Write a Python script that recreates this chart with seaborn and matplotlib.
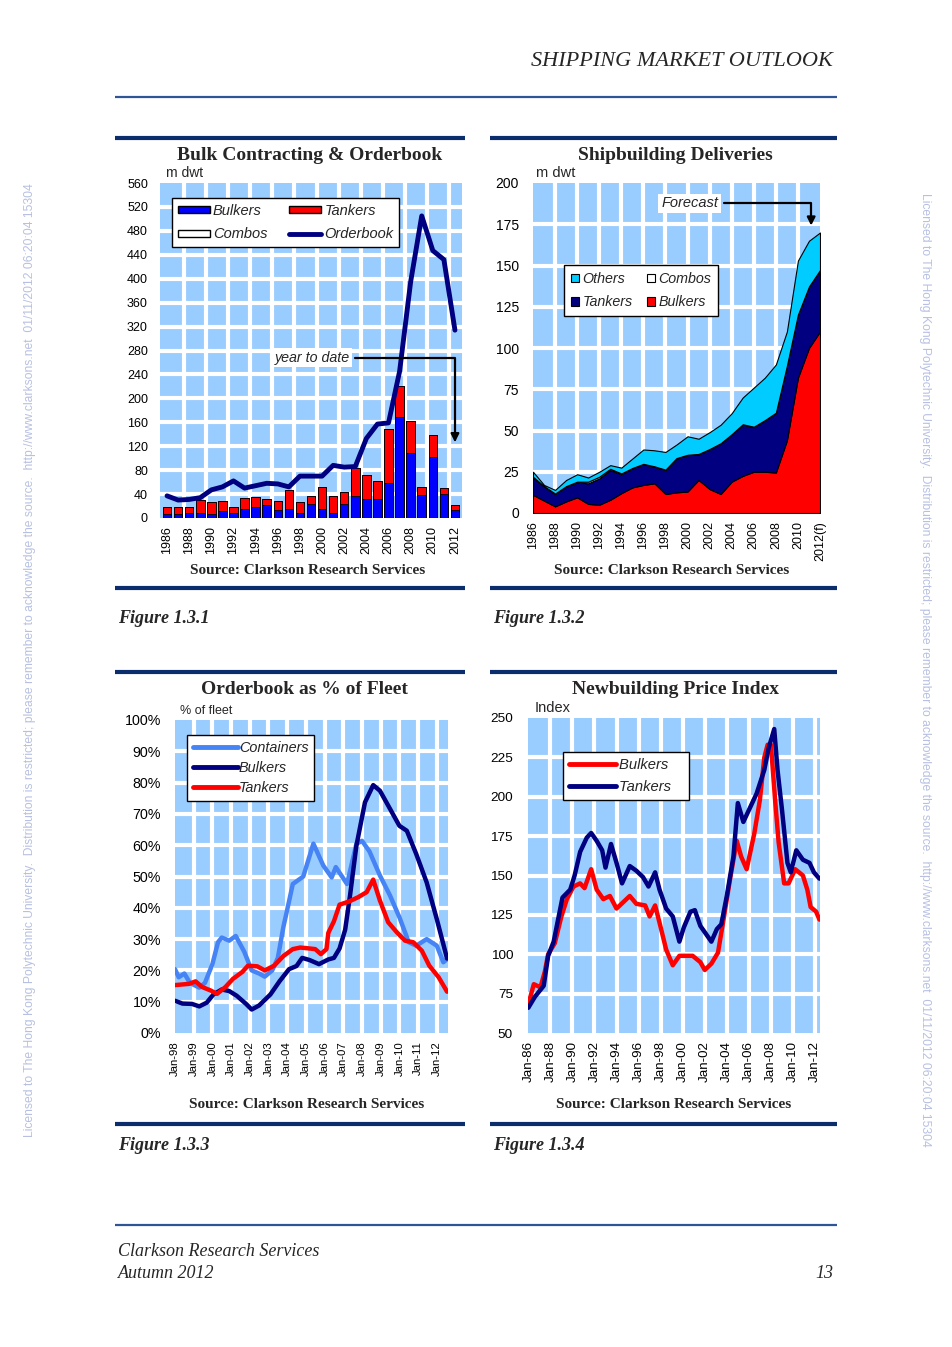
import numpy as np
import matplotlib
matplotlib.use("Agg")
import matplotlib.pyplot as plt
from matplotlib.lines import Line2D
from matplotlib.patches import Patch
import seaborn as sns

sns.set_theme(style="white")
plt.rcParams['font.family'] = ['Liberation Sans', 'DejaVu Sans']
SERIF = ['Liberation Serif', 'DejaVu Serif']

# ---- Fig 1.3.1 Bulk contracting & orderbook (m dwt)
years1 = list(range(1986, 2013))
bulk_con = [7, 7, 9, 9, 6, 11, 8, 15, 18, 22, 14, 15, 9, 24, 15, 9, 23, 36, 32, 31, 58, 169, 108, 38, 102, 40, 13]
tank_con = [11, 12, 10, 21, 21, 18, 10, 18, 17, 10, 15, 31, 18, 12, 37, 28, 21, 48, 40, 31, 91, 51, 54, 14, 37, 10, 8]
combo_con = [0] * 27
orderbook = [37, 30, 31, 34, 47, 52, 62, 50, 54, 58, 57, 52, 70, 70, 70, 88, 85, 86, 133, 157, 159, 245, 395, 505, 447, 432, 314]

# ---- Fig 1.3.2 Shipbuilding deliveries (m dwt)
years2 = list(range(1986, 2013))
del_bulk = [11, 7.5, 4, 7, 9.5, 5.5, 5, 8, 12, 15.5, 17, 18, 11.5, 12.5, 13, 20, 14.5, 11.5, 19, 22.5, 25, 25, 24.5, 44, 82, 100, 110]
del_tank = [10.5, 8.5, 7.5, 9, 9, 12.5, 16, 18, 11.5, 11.5, 12.5, 10, 14.5, 20.5, 22, 15.5, 24, 30.5, 28.5, 31, 27, 31, 36, 45, 38, 37, 37]
del_combo = [0.5, 0.3, 0.3, 0.3, 0.5, 1, 1, 0.8, 0.5, 0.3, 0.3, 0.3, 0.3, 0.3, 0.3, 0.3, 0.3, 0.3, 0.3, 0.3, 0.3, 0.3, 0.3, 0.3, 0.3, 0.3, 0.3]
del_other = [3, 0.7, 2.2, 3.7, 4.5, 2.5, 3, 2.2, 3.5, 5.7, 8.7, 9.7, 10.7, 8.2, 11.2, 9.2, 10.2, 11.2, 12.7, 16.2, 23.7, 25.7, 29.2, 20.7, 32.7, 27.7, 22.7]
year_labels2 = [str(y) for y in range(1986, 2012, 2)] + ['2012(f)']

# ---- Fig 1.3.3 Orderbook as % of fleet
cont_t = [1998.0, 1998.2, 1998.5, 1998.8, 1999.3, 1999.6, 2000.0, 2000.3, 2000.5, 2000.9, 2001.25, 2001.7,
          2002.1, 2002.5, 2002.8, 2003.2, 2003.5, 2003.8, 2003.95, 2004.3, 2004.86, 2005.4, 2005.93, 2006.38,
          2006.6, 2007.2, 2007.7, 2008.0, 2008.4, 2008.96, 2009.5, 2010.0, 2010.5, 2010.9, 2011.46, 2012.0,
          2012.35, 2012.55]
cont_v = [20.4, 17.8, 19, 16, 14.5, 16, 22, 29, 30.5, 29.5, 31, 26, 20, 19, 18, 20, 24, 34, 38, 47.6, 50,
          60.5, 53.5, 49.7, 53, 47.6, 60.4, 61.4, 58, 50.3, 43.9, 37, 29, 27.9, 30, 27.9, 22.6, 23.6]
bulkob_t = [1998.0, 1998.4, 1998.9, 1999.3, 1999.7, 2000.05, 2000.5, 2000.9, 2001.3, 2001.8, 2002.1, 2002.5,
            2003.1, 2003.6, 2004.1, 2004.5, 2004.8, 2005.2, 2005.7, 2006.2, 2006.5, 2006.8, 2007.1, 2007.36,
            2007.7, 2008.16, 2008.6, 2008.96, 2009.5, 2010.0, 2010.4, 2010.9, 2011.46, 2012.0, 2012.55]
bulkob_v = [10.3, 9.4, 9.3, 8.5, 9.7, 12.3, 13.9, 13.4, 11.9, 9.3, 7.5, 8.8, 12.3, 16.6, 20.4, 21.4, 24, 23.3,
            22, 23.5, 24, 27, 33, 43.9, 59.8, 73.7, 79.2, 77.4, 71.6, 66.2, 64.6, 57.2, 48.1, 36.4, 23.8]
tankob_t = [1998.0, 1998.75, 1999.1, 1999.45, 1999.9, 2000.25, 2000.7, 2001.1, 2001.6, 2001.9, 2002.4, 2002.8,
            2003.3, 2003.8, 2004.3, 2004.7, 2005.2, 2005.5, 2005.8, 2006.1, 2006.2, 2006.5, 2006.8, 2007.3,
            2007.8, 2008.25, 2008.6, 2008.96, 2009.4, 2009.86, 2010.3, 2010.74, 2011.2, 2011.6, 2012.1, 2012.55]
tankob_v = [15.3, 15.7, 16.5, 14.7, 13.6, 12.5, 14.7, 17.3, 19.5, 21.5, 21.3, 20, 21.5, 24.6, 26.8, 27.3, 27,
            26.8, 25.2, 26.8, 32, 35.7, 41, 42, 43.4, 45, 49, 42.3, 35.4, 32.2, 29.5, 29, 26.3, 21.5, 17.8, 13.2]

# ---- Fig 1.3.4 Newbuilding price index
nbtank_t = [1986.0, 1986.6, 1987.4, 1987.8, 1988.3, 1988.7, 1989.1, 1989.8, 1990.2, 1990.7, 1991.3, 1991.7,
            1992.2, 1992.7, 1993.0, 1993.5, 1994.0, 1994.5, 1995.2, 1995.8, 1996.4, 1996.9, 1997.5, 1997.9,
            1998.5, 1999.1, 1999.7, 2000.1, 2000.7, 2001.1, 2001.6, 2002.2, 2002.6, 2003.1, 2003.5, 2004.0,
            2004.6, 2005.0, 2005.5, 2006.1, 2006.7, 2007.4, 2007.8, 2008.3, 2008.6, 2009.0, 2009.5, 2009.8,
            2010.3, 2010.9, 2011.5, 2011.9, 2012.4]
nbtank_v = [66, 73, 80, 99, 108, 122, 136, 141, 150, 165, 174, 177, 172, 166, 155, 170, 158, 145, 156, 153,
            149, 143, 152, 141, 129, 124, 108, 117, 127, 128, 118, 112, 108, 116, 119, 137, 162, 196, 184, 193,
            202, 217, 231, 243, 217, 192, 158, 152, 166, 160, 158, 152, 148]
nbbulk_t = [1986.0, 1986.5, 1987.1, 1987.5, 1987.8, 1988.4, 1989.0, 1989.5, 1990.1, 1990.7, 1991.1, 1991.7,
            1992.2, 1992.8, 1993.4, 1994.0, 1994.6, 1995.2, 1995.8, 1996.6, 1997.0, 1997.5, 1997.9, 1998.5,
            1999.1, 1999.7, 2000.3, 2000.9, 2001.6, 2002.0, 2002.6, 2003.2, 2003.7, 2004.3, 2004.9, 2005.3,
            2005.8, 2006.5, 2007.0, 2007.4, 2007.7, 2008.0, 2008.4, 2008.7, 2009.2, 2009.6, 2010.2, 2010.9,
            2011.3, 2011.6, 2012.1, 2012.4]
nbbulk_v = [68, 81, 79, 89, 100, 107, 124, 135, 143, 145, 142, 154, 141, 135, 137, 129, 133, 137, 132, 131,
            124, 131, 120, 103, 93, 99, 99, 99, 95, 90, 94, 101, 122, 148, 172, 162, 154, 177, 198, 225, 233,
            233, 196, 171, 145, 145, 154, 150, 141, 130, 127, 122]

TILE = '#99CCFF'
NAVY = '#000080'
FRAME = '#0B2D6B'
W, H = 952, 1347

fig = plt.figure(figsize=(9.52, 13.47), dpi=100)


def box(l, t, r, b):
    return [l / W, 1 - b / H, (r - l) / W, (b - t) / H]


def hline(x0, x1, y, color, lw):
    fig.add_artist(Line2D([x0 / W, x1 / W], [1 - y / H, 1 - y / H], transform=fig.transFigure,
                          color=color, lw=lw, solid_capstyle='butt'))


def ftext(x, y, s, **kw):
    fig.text(x / W, 1 - y / H, s, **kw)


def style_ax(ax, xlines, ylines, ysize=9, xsize=9, ypad=9):
    ax.set_facecolor(TILE)
    for x in xlines:
        ax.axvline(x, color='white', lw=3, zorder=0.5)
    for y in ylines:
        ax.axhline(y, color='white', lw=3, zorder=0.5)
    for s in ax.spines.values():
        s.set_visible(False)
    ax.tick_params(length=0, labelcolor='black')
    ax.tick_params(axis='y', pad=ypad, labelsize=ysize)
    ax.tick_params(axis='x', pad=6, labelsize=xsize)
    ax.set(xlabel='', ylabel='')


def legend(ax, handles, anchor, ncol, size=10.5, **kw):
    lg = ax.legend(handles=handles, ncol=ncol, loc='upper left', bbox_to_anchor=anchor, frameon=True,
                   fancybox=False, edgecolor='black', framealpha=1, borderaxespad=0,
                   prop=dict(style='italic', size=size), **kw)
    lg.get_frame().set_linewidth(1.0)
    return lg


arrow_kw = dict(arrowstyle='-|>', connectionstyle='angle,angleA=0,angleB=90,rad=0',
                color='black', lw=1.6, mutation_scale=12)

# ---------------- Figure 1.3.1
ax1 = fig.add_axes(box(160.4, 183, 461.6, 518))
tot_all = np.array(bulk_con) + np.array(tank_con) + np.array(combo_con)
tot_bt = np.array(bulk_con) + np.array(tank_con)
bar_kw = dict(edgecolor='black', linewidth=0.6, width=0.77, saturation=1, ax=ax1)
sns.barplot(x=years1, y=tot_all, color='white', **bar_kw)
sns.barplot(x=years1, y=tot_bt, color='#FF0000', **bar_kw)
sns.barplot(x=years1, y=bulk_con, color='#0000FF', **bar_kw)
sns.lineplot(x=np.arange(len(years1)), y=orderbook, color=NAVY, lw=3.5, ax=ax1)
ax1.set_xlim(-0.6, 26.6)
ax1.set_ylim(0, 560)
ax1.set_yticks(range(0, 561, 40))
ax1.set_xticks(range(0, 27, 2))
ax1.set_xticklabels([str(y) for y in years1[::2]], rotation=90)
style_ax(ax1, np.arange(1.5, 26, 2), range(40, 560, 40))
legend(ax1, [Patch(fc='#0000FF', ec='black', label='Bulkers'),
             Patch(fc='white', ec='black', label='Combos'),
             Patch(fc='#FF0000', ec='black', label='Tankers'),
             Line2D([], [], color=NAVY, lw=3.5, label='Orderbook')],
       (0.0385, 0.955), 2, handlelength=2.2, handleheight=0.35, columnspacing=1.5, labelspacing=0.65,
       handletextpad=0.2, borderpad=0.4)
ax1.annotate('year to date', xy=(26, 122), xytext=(13.1, 268), fontsize=10.3, style='italic',
             ha='center', va='center', bbox=dict(fc='white', ec='none', pad=2), arrowprops=arrow_kw)
ax1.text(0.02, 1.008, 'm dwt', transform=ax1.transAxes, fontsize=10, va='bottom')

# ---------------- Figure 1.3.2
ax2 = fig.add_axes(box(533, 183, 820, 513))
ax2.stackplot(years2, del_bulk, del_tank, del_combo, del_other,
              colors=['#FF0000', NAVY, 'white', '#00CCFF'], edgecolor='black', lw=0.8, zorder=2)
ax2.set_xlim(1986, 2012)
ax2.set_ylim(0, 200)
ax2.set_yticks(range(0, 201, 25))
ax2.set_xticks(range(1986, 2013, 2))
ax2.set_xticklabels(year_labels2, rotation=90)
style_ax(ax2, range(1988, 2012, 2), range(25, 200, 25), ysize=10, ypad=10)
sq = dict(ec='black', lw=0.8)
legend(ax2, [Patch(fc='#00CCFF', label='Others', **sq), Patch(fc=NAVY, label='Tankers', **sq),
             Patch(fc='white', label='Combos', **sq), Patch(fc='#FF0000', label='Bulkers', **sq)],
       (0.108, 0.752), 2, size=10.3, handlelength=0.55, handleheight=0.55, columnspacing=1.0,
       labelspacing=0.65, handletextpad=0.25, borderpad=0.5)
ax2.annotate('Forecast', xy=(2011.2, 172.5), xytext=(2000.2, 187.7), fontsize=10.5, style='italic',
             ha='center', va='center', bbox=dict(fc='white', ec='none', pad=2), arrowprops=arrow_kw)
ax2.text(0.01, 1.008, 'm dwt', transform=ax2.transAxes, fontsize=10.5, va='bottom')

# ---------------- Figure 1.3.3
ax3 = fig.add_axes(box(175, 720, 448, 1033))
sns.lineplot(x=cont_t, y=cont_v, color='#4683F5', lw=3.2, ax=ax3)
sns.lineplot(x=bulkob_t, y=bulkob_v, color=NAVY, lw=3.2, ax=ax3)
sns.lineplot(x=tankob_t, y=tankob_v, color='#FF0000', lw=3.2, ax=ax3)
ax3.set_xlim(1998, 2012.6)
ax3.set_ylim(0, 100)
ax3.set_yticks(range(0, 101, 10))
ax3.set_yticklabels([f'{v}%' for v in range(0, 101, 10)])
ax3.set_xticks(range(1998, 2013))
ax3.set_xticklabels([f'Jan-{y % 100:02d}' for y in range(1998, 2013)], rotation=90)
style_ax(ax3, range(1999, 2013), range(10, 100, 10), ysize=10.3, xsize=8.2, ypad=10)
legend(ax3, [Line2D([], [], color='#4683F5', lw=3.5, label='Containers'),
             Line2D([], [], color=NAVY, lw=3.5, label='Bulkers'),
             Line2D([], [], color='#FF0000', lw=3.5, label='Tankers')],
       (0.044, 0.952), 1, size=10.4, handlelength=3.1, labelspacing=0.42, borderpad=0.4,
       handletextpad=0.1)
ax3.text(0.02, 1.008, '% of fleet', transform=ax3.transAxes, fontsize=9, va='bottom')

# ---------------- Figure 1.3.4
ax4 = fig.add_axes(box(528.3, 718, 820, 1033))
sns.lineplot(x=nbbulk_t, y=nbbulk_v, color='#FF0000', lw=3.2, ax=ax4)
sns.lineplot(x=nbtank_t, y=nbtank_v, color=NAVY, lw=3.2, ax=ax4)
ax4.set_xlim(1986, 2012.45)
ax4.set_ylim(50, 250)
ax4.set_yticks(range(50, 251, 25))
ax4.set_xticks(range(1986, 2013, 2))
ax4.set_xticklabels([f'Jan-{y % 100:02d}' for y in range(1986, 2013, 2)], rotation=90)
style_ax(ax4, range(1988, 2013, 2), range(75, 250, 25), ysize=9.7, xsize=9.6, ypad=11)
legend(ax4, [Line2D([], [], color='#FF0000', lw=3.5, label='Bulkers   '),
             Line2D([], [], color=NAVY, lw=3.5, label='Tankers   ')],
       (0.119, 0.892), 1, size=10.6, handlelength=3.2, labelspacing=0.55, borderpad=0.42,
       handletextpad=0.15)
ax4.text(0.02, 1.008, 'Index', transform=ax4.transAxes, fontsize=10.5, va='bottom')

# ---------------- page furniture
ftext(833, 62, 'SHIPPING MARKET OUTLOOK', family=SERIF, style='italic', fontsize=16, ha='right', va='center')
hline(115, 837, 97, '#2F5597', 1.6)
for (l, r) in [(115, 465), (490, 837)]:
    hline(l, r, 138, FRAME, 3)
    hline(l, r, 588, FRAME, 3)
    hline(l, r, 672, FRAME, 3)
    hline(l, r, 1124, FRAME, 3)

title_kw = dict(family=SERIF, weight='bold', fontsize=14, ha='center', va='center')
ftext(310, 155, 'Bulk Contracting & Orderbook', **title_kw)
ftext(675, 155, 'Shipbuilding Deliveries', **title_kw)
ftext(304, 690, 'Orderbook as % of Fleet', **title_kw)
ftext(675, 690, 'Newbuilding Price Index', **title_kw)

src_kw = dict(family=SERIF, weight='bold', fontsize=11, ha='center', va='center')
ftext(308, 570, 'Source: Clarkson Research Services', **src_kw)
ftext(672, 570, 'Source: Clarkson Research Services', **src_kw)
ftext(307, 1105, 'Source: Clarkson Research Services', **src_kw)
ftext(674, 1105, 'Source: Clarkson Research Services', **src_kw)

fig_kw = dict(family=SERIF, weight='bold', style='italic', fontsize=13, ha='left', va='center')
ftext(118, 618, 'Figure 1.3.1', **fig_kw)
ftext(493, 618, 'Figure 1.3.2', **fig_kw)
ftext(118, 1145, 'Figure 1.3.3', **fig_kw)
ftext(493, 1145, 'Figure 1.3.4', **fig_kw)

hline(115, 837, 1225, '#2F5597', 1.6)
foot_kw = dict(family=SERIF, style='italic', fontsize=13, va='center')
ftext(118, 1252, 'Clarkson Research Services', ha='left', **foot_kw)
ftext(118, 1273, 'Autumn 2012', ha='left', **foot_kw)
ftext(833, 1273, '13', ha='right', **foot_kw)

wm = ('Licensed to The Hong Kong Polytechnic University.  Distribution is restricted; please remember to '
      'acknowledge the source.  http://www.clarksons.net  01/11/2012 06:20:04 15304')
ftext(30, 660, wm, rotation=90, ha='center', va='center', color='#B7C0E2', fontsize=8.7)
ftext(925, 670, wm, rotation=270, ha='center', va='center', color='#B7C0E2', fontsize=8.7)

fig.savefig('out.png', dpi=100, facecolor='white')
